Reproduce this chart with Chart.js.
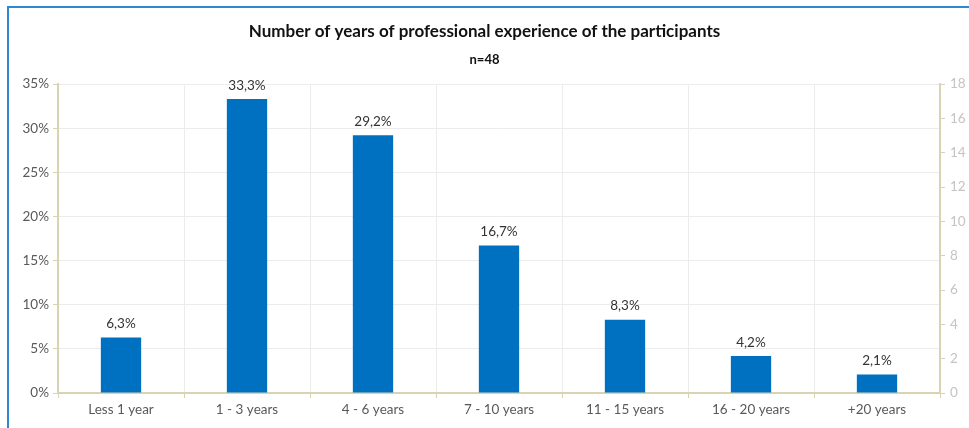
<!DOCTYPE html>
<html>
<head>
<meta charset="utf-8">
<script src="https://cdn.jsdelivr.net/npm/chart.js@4.4.1/dist/chart.umd.min.js"></script>
<style>
  body { margin: 0; background: #fff; }
  #wrap { position: relative; width: 969px; height: 428px; }
  #frame { position: absolute; left: 7px; top: 6px; width: 980px; height: 440px;
           border-left: 2px solid #2f88d0; border-top: 2px solid #2f88d0; pointer-events: none; }
</style>
</head>
<body>
<div id="wrap">
  <canvas id="myChart" width="969" height="428"></canvas>
  <div id="frame"></div>
</div>
<script>
// experience buckets and share of participants (%)
const categories = ["Less 1 year", "1 - 3 years", "4 - 6 years", "7 - 10 years", "11 - 15 years", "16 - 20 years", "+20 years"];
const shares = [6.3, 33.3, 29.2, 16.7, 8.3, 4.2, 2.1];
const leftTicks = [0, 5, 10, 15, 20, 25, 30, 35];
const rightTicks = [0, 2, 4, 6, 8, 10, 12, 14, 16, 18];

const fontFamily = "Lato, 'Open Sans', sans-serif";
const axisBeige = "#d9d3b3";

// writes "6,3%" style labels above each bar
const barLabels = {
    id: "barLabels",
    afterDatasetsDraw(chart) {
        const ctx = chart.ctx;
        const meta = chart.getDatasetMeta(0);
        ctx.save();
        ctx.font = "13.5px " + fontFamily;
        ctx.fillStyle = "#333333";
        ctx.textAlign = "center";
        ctx.textBaseline = "bottom";
        meta.data.forEach((bar, i) => {
            const txt = shares[i].toFixed(1).replace(".", ",") + "%";
            ctx.fillText(txt, bar.x, bar.y - 7);
        });
        ctx.restore();
    }
};

new Chart("myChart", {
    type: "bar",
    data: {
        labels: categories,
        datasets: [{
            data: shares,
            backgroundColor: "#0070c0",
            borderWidth: 0,
            barPercentage: 0.32,
            categoryPercentage: 1,
            yAxisID: "y"
        }]
    },
    options: {
        responsive: false,
        animation: false,
        layout: { padding: { left: 0, right: 0, top: 0, bottom: 0 } },
        plugins: {
            legend: { display: false },
            tooltip: { enabled: false },
            title: {
                display: true,
                text: "Number of years of professional experience of the participants",
                color: "#111111",
                font: { family: fontFamily, size: 17, weight: "bold" },
                padding: { top: 21, bottom: 11 }
            },
            subtitle: {
                display: true,
                text: "n=48",
                color: "#111111",
                font: { family: fontFamily, size: 13, weight: "bold" },
                padding: { top: 0, bottom: 16 }
            }
        },
        scales: {
            x: {
                offset: true,
                grid: {
                    offset: true,
                    color: "#ececec",
                    tickColor: axisBeige,
                    tickLength: 5
                },
                border: { color: axisBeige, width: 2 },
                ticks: {
                    color: "#595959",
                    font: { family: fontFamily, size: 13.5 },
                    padding: 4,
                    maxRotation: 0
                },
                afterFit: s => { s.height = 35; }
            },
            y: {
                position: "left",
                min: 0,
                max: 35,
                afterBuildTicks: s => { s.ticks = leftTicks.map(v => ({ value: v })); },
                grid: { color: "#ececec", tickColor: axisBeige, tickLength: 5 },
                border: { color: axisBeige, width: 2 },
                ticks: {
                    color: "#595959",
                    font: { family: fontFamily, size: 13.5 },
                    padding: 4,
                    callback: v => v + "%"
                },
                afterFit: s => { s.width = 58; }
            },
            y1: {
                position: "right",
                display: true,
                min: 0,
                max: 18,
                afterBuildTicks: s => { s.ticks = rightTicks.map(v => ({ value: v })); },
                grid: { drawOnChartArea: false, tickColor: axisBeige, tickLength: 5 },
                border: { color: axisBeige, width: 2 },
                ticks: {
                    color: "#c4c4c4",
                    font: { family: fontFamily, size: 13.5 },
                    padding: 5
                },
                afterFit: s => { s.width = 29; }
            }
        }
    },
    plugins: [barLabels]
});
</script>
</body>
</html>
